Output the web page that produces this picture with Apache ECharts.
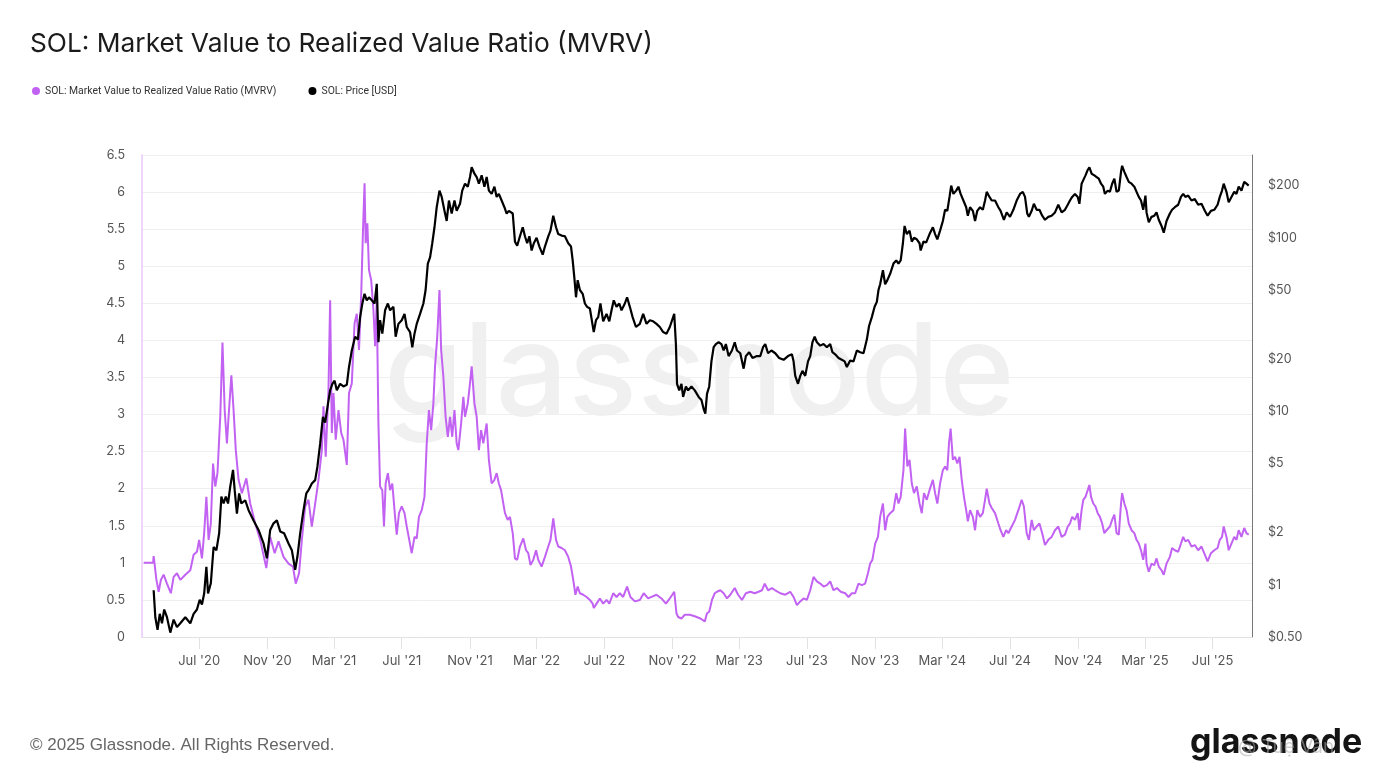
<!DOCTYPE html>
<html><head><meta charset="utf-8">
<script src="https://cdn.jsdelivr.net/npm/echarts@6/dist/echarts.min.js"></script>
<style>html,body{margin:0;padding:0;background:#fff;}#chart{width:1392px;height:780px;}</style>
</head><body><div id="chart"></div>
<script>
const seriesNames = ['SOL: Market Value to Realized Value Ratio (MVRV)', 'SOL: Price [USD]'];

const mvrvDates = [
'2020-03-23','2020-04-09','2020-04-10','2020-04-15','2020-04-19','2020-04-23','2020-04-28','2020-05-04','2020-05-11','2020-05-16',
'2020-05-22','2020-05-28','2020-06-06','2020-06-15','2020-06-21','2020-06-27','2020-07-01','2020-07-06','2020-07-10','2020-07-14',
'2020-07-18','2020-07-22','2020-07-26','2020-07-30','2020-08-03','2020-08-08','2020-08-12','2020-08-16','2020-08-20','2020-08-23',
'2020-08-28','2020-09-01','2020-09-05','2020-09-10','2020-09-16','2020-09-24','2020-10-01','2020-10-10','2020-10-19','2020-10-30',
'2020-11-06','2020-11-14','2020-11-21','2020-11-30','2020-12-09','2020-12-17','2020-12-22','2020-12-28',
'2021-01-02','2021-01-08','2021-01-14','2021-01-20','2021-01-26','2021-02-01','2021-02-07','2021-02-10','2021-02-14','2021-02-19',
'2021-02-22','2021-02-25','2021-02-28','2021-03-04','2021-03-09','2021-03-14','2021-03-18','2021-03-24','2021-03-28','2021-04-02',
'2021-04-07','2021-04-11','2021-04-15','2021-04-19','2021-04-22','2021-04-25','2021-04-27','2021-04-30','2021-05-03','2021-05-07',
'2021-05-11','2021-05-14','2021-05-17','2021-05-20','2021-05-23','2021-05-27','2021-05-30','2021-06-02','2021-06-06','2021-06-10',
'2021-06-14','2021-06-19','2021-06-22','2021-06-26','2021-07-01','2021-07-06','2021-07-10','2021-07-14','2021-07-19','2021-07-24',
'2021-07-28','2021-08-01','2021-08-06','2021-08-11','2021-08-15','2021-08-19','2021-08-23','2021-08-27','2021-08-30','2021-09-03',
'2021-09-07','2021-09-10','2021-09-14','2021-09-18','2021-09-22','2021-09-26','2021-09-30','2021-10-04','2021-10-08','2021-10-11',
'2021-10-16','2021-10-20','2021-10-23','2021-10-28','2021-11-01','2021-11-04','2021-11-09','2021-11-13','2021-11-17','2021-11-21',
'2021-11-25','2021-12-01','2021-12-05','2021-12-10','2021-12-15','2021-12-19','2021-12-23','2021-12-27','2021-12-31',
'2022-01-03','2022-01-08','2022-01-12','2022-01-17','2022-01-21','2022-01-25','2022-01-30','2022-02-05','2022-02-10','2022-02-14',
'2022-02-18','2022-02-23','2022-02-28','2022-03-04','2022-03-10','2022-03-16','2022-03-22','2022-03-26','2022-03-31','2022-04-05',
'2022-04-09','2022-04-15','2022-04-21','2022-04-27','2022-05-02','2022-05-06','2022-05-10','2022-05-14','2022-05-18','2022-05-24',
'2022-05-30','2022-06-05','2022-06-10','2022-06-12','2022-06-17','2022-06-23','2022-06-29','2022-07-05','2022-07-10','2022-07-17',
'2022-07-23','2022-07-29','2022-08-04','2022-08-11','2022-08-17','2022-08-25','2022-09-03','2022-09-10','2022-09-18','2022-09-24',
'2022-10-03','2022-10-12','2022-10-20','2022-10-27','2022-11-04','2022-11-08','2022-11-11','2022-11-17','2022-11-23','2022-12-02',
'2022-12-11','2022-12-21','2022-12-29',
'2023-01-02','2023-01-06','2023-01-11','2023-01-16','2023-01-20','2023-01-26','2023-02-01','2023-02-07','2023-02-13','2023-02-21',
'2023-02-27','2023-03-06','2023-03-13','2023-03-21','2023-03-29','2023-04-05','2023-04-11','2023-04-16','2023-04-22','2023-04-29',
'2023-05-05','2023-05-14','2023-05-23','2023-06-01','2023-06-07','2023-06-13','2023-06-19','2023-06-25','2023-07-01','2023-07-07',
'2023-07-13','2023-07-19','2023-07-25','2023-07-31','2023-08-06','2023-08-12','2023-08-18','2023-08-24','2023-08-31','2023-09-08',
'2023-09-14','2023-09-20','2023-09-26','2023-10-02','2023-10-08','2023-10-14','2023-10-19','2023-10-23','2023-10-27','2023-11-01',
'2023-11-06','2023-11-10','2023-11-15','2023-11-19','2023-11-23','2023-11-28','2023-12-04','2023-12-09','2023-12-13','2023-12-17',
'2023-12-22','2023-12-25','2023-12-29',
'2024-01-02','2024-01-06','2024-01-10','2024-01-15','2024-01-20','2024-01-24','2024-01-28','2024-02-02','2024-02-07','2024-02-13',
'2024-02-17','2024-02-21','2024-02-26','2024-03-02','2024-03-06','2024-03-10','2024-03-13','2024-03-16','2024-03-20','2024-03-24',
'2024-03-28','2024-04-01','2024-04-05','2024-04-09','2024-04-13','2024-04-16','2024-04-20','2024-04-25','2024-04-29','2024-05-03',
'2024-05-08','2024-05-13','2024-05-17','2024-05-20','2024-05-25','2024-05-29','2024-06-04','2024-06-10','2024-06-14','2024-06-19',
'2024-06-24','2024-06-28','2024-07-04','2024-07-10','2024-07-16','2024-07-22','2024-07-26','2024-07-31','2024-08-04','2024-08-09',
'2024-08-13','2024-08-18','2024-08-23','2024-08-28','2024-09-02','2024-09-08','2024-09-14','2024-09-20','2024-09-26','2024-10-02',
'2024-10-08','2024-10-13','2024-10-17','2024-10-21','2024-10-26','2024-10-31','2024-11-03','2024-11-07','2024-11-10','2024-11-14',
'2024-11-18','2024-11-21','2024-11-24','2024-11-28','2024-12-02','2024-12-06','2024-12-10','2024-12-14','2024-12-18','2024-12-22',
'2024-12-28',
'2025-01-01','2025-01-05','2025-01-09','2025-01-13','2025-01-17','2025-01-19','2025-01-23','2025-01-27','2025-01-31','2025-02-05',
'2025-02-10','2025-02-14','2025-02-18','2025-02-22','2025-02-26','2025-03-02','2025-03-04','2025-03-08','2025-03-13','2025-03-18',
'2025-03-22','2025-03-26','2025-03-31','2025-04-04','2025-04-09','2025-04-15','2025-04-19','2025-04-24','2025-04-30','2025-05-05',
'2025-05-09','2025-05-13','2025-05-18','2025-05-24','2025-05-30','2025-06-05','2025-06-11','2025-06-17','2025-06-22','2025-06-28',
'2025-07-04','2025-07-10','2025-07-14','2025-07-18','2025-07-21','2025-07-26','2025-07-30','2025-08-04','2025-08-09','2025-08-13',
'2025-08-17','2025-08-22','2025-08-27','2025-08-31','2025-09-04'
];
const mvrvValues = [
1.00,1.00,1.09,0.77,0.61,0.77,0.84,0.72,0.59,0.81,
0.86,0.77,0.84,0.90,1.11,1.15,1.31,1.06,1.40,1.89,
1.31,1.53,2.34,2.03,2.21,2.97,3.97,3.06,2.61,2.97,
3.53,3.06,2.52,2.12,1.94,2.14,1.80,1.53,1.31,0.93,
1.35,1.13,1.29,1.08,0.99,0.95,0.72,0.86,
1.31,1.76,1.85,1.49,1.80,2.12,2.52,3.11,2.43,3.33,
4.54,2.75,3.29,2.66,3.06,2.75,2.66,2.32,3.29,3.42,
4.23,4.36,3.87,4.63,5.44,6.12,5.31,5.58,4.95,4.81,
4.41,3.92,4.54,2.88,2.03,1.98,1.49,2.07,2.21,1.98,
2.07,1.62,1.38,1.67,1.76,1.67,1.49,1.33,1.13,1.35,
1.33,1.62,1.71,1.89,2.61,3.06,2.79,3.15,3.65,4.05,
4.68,3.87,3.51,2.97,2.70,2.97,2.70,3.06,2.61,2.52,
2.88,3.24,2.97,3.15,3.42,3.65,3.15,2.97,2.52,2.79,
2.61,2.88,2.39,2.07,2.12,2.21,2.07,1.98,1.80,
1.67,1.58,1.62,1.40,1.06,1.04,1.22,1.33,1.17,1.13,
0.97,1.04,1.17,1.04,0.95,1.08,1.22,1.31,1.60,1.31,
1.22,1.20,1.17,1.08,0.95,0.77,0.57,0.68,0.59,0.57,
0.54,0.50,0.45,0.39,0.45,0.52,0.45,0.50,0.45,0.59,
0.54,0.59,0.54,0.68,0.54,0.48,0.50,0.59,0.52,0.54,
0.57,0.52,0.45,0.52,0.61,0.32,0.27,0.25,0.30,0.30,
0.28,0.25,0.21,
0.32,0.34,0.50,0.59,0.61,0.63,0.59,0.52,0.57,0.66,
0.57,0.50,0.59,0.61,0.59,0.61,0.63,0.72,0.63,0.66,
0.63,0.59,0.57,0.61,0.54,0.43,0.48,0.52,0.50,0.63,
0.81,0.75,0.72,0.68,0.70,0.75,0.63,0.66,0.61,0.59,
0.54,0.59,0.59,0.72,0.70,0.72,0.86,0.99,1.04,1.26,
1.35,1.62,1.80,1.44,1.62,1.67,1.71,1.94,1.80,1.89,
2.25,2.81,2.30,
2.39,2.07,1.94,2.03,1.80,1.67,1.94,1.85,1.98,2.12,
1.94,1.80,2.07,2.25,2.30,2.25,2.61,2.81,2.39,2.43,
2.34,2.43,2.12,1.89,1.71,1.56,1.71,1.62,1.44,1.71,
1.62,1.67,1.85,2.00,1.80,1.74,1.67,1.53,1.44,1.35,
1.44,1.40,1.49,1.58,1.71,1.85,1.76,1.40,1.31,1.58,
1.44,1.49,1.53,1.40,1.24,1.31,1.35,1.44,1.49,1.35,
1.38,1.49,1.53,1.62,1.58,1.67,1.44,1.71,1.85,1.89,
1.98,2.05,1.89,1.80,1.76,1.67,1.62,1.53,1.40,1.44,
1.49,
1.58,1.65,1.40,1.38,1.80,1.94,1.80,1.71,1.53,1.44,
1.40,1.31,1.26,1.17,1.04,1.26,0.99,0.88,0.99,0.97,
1.06,0.95,0.90,0.84,0.99,1.08,1.20,1.17,1.15,1.26,
1.35,1.29,1.31,1.22,1.24,1.17,1.22,1.11,1.02,1.13,
1.17,1.20,1.31,1.35,1.49,1.35,1.17,1.26,1.35,1.31,
1.44,1.35,1.47,1.40,1.38
];

const priceDates = [
'2020-04-10','2020-04-13','2020-04-17','2020-04-21','2020-04-25','2020-04-29','2020-05-04','2020-05-10','2020-05-16','2020-05-22',
'2020-05-28','2020-06-06','2020-06-15','2020-06-21','2020-06-27','2020-07-02','2020-07-06','2020-07-10','2020-07-14','2020-07-17',
'2020-07-22','2020-07-27','2020-08-01','2020-08-06','2020-08-10','2020-08-14','2020-08-18','2020-08-22','2020-08-26','2020-08-31',
'2020-09-03','2020-09-07','2020-09-11','2020-09-15','2020-09-22','2020-09-28','2020-10-07','2020-10-16','2020-10-25','2020-10-31',
'2020-11-06','2020-11-12','2020-11-18','2020-11-24','2020-12-01','2020-12-09','2020-12-15','2020-12-21','2020-12-25','2020-12-30',
'2021-01-05','2021-01-10','2021-01-14','2021-01-20','2021-01-26','2021-01-30','2021-02-04','2021-02-09','2021-02-13','2021-02-18',
'2021-02-22','2021-02-26','2021-03-02','2021-03-06','2021-03-12','2021-03-18','2021-03-24','2021-03-28','2021-04-02','2021-04-08',
'2021-04-13','2021-04-17','2021-04-21','2021-04-25','2021-04-29','2021-05-03','2021-05-08','2021-05-13','2021-05-17','2021-05-20',
'2021-05-23','2021-05-27','2021-06-01','2021-06-06','2021-06-10','2021-06-16','2021-06-20','2021-06-25','2021-07-01','2021-07-06',
'2021-07-10','2021-07-16','2021-07-20','2021-07-24','2021-07-28','2021-08-03','2021-08-09','2021-08-13','2021-08-17','2021-08-21',
'2021-08-25','2021-08-29','2021-09-02','2021-09-07','2021-09-11','2021-09-16','2021-09-20','2021-09-24','2021-09-29','2021-10-04',
'2021-10-08','2021-10-14','2021-10-18','2021-10-23','2021-10-28','2021-11-01','2021-11-04','2021-11-09','2021-11-13','2021-11-17',
'2021-11-22','2021-11-27','2021-12-01','2021-12-05','2021-12-10','2021-12-15','2021-12-19','2021-12-23','2021-12-28',
'2022-01-02','2022-01-06','2022-01-10','2022-01-12','2022-01-17','2022-01-21','2022-01-25','2022-01-30','2022-02-04','2022-02-08',
'2022-02-12','2022-02-16','2022-02-20','2022-02-24','2022-03-01','2022-03-06','2022-03-12','2022-03-16','2022-03-22','2022-03-26',
'2022-03-31','2022-04-05','2022-04-09','2022-04-15','2022-04-21','2022-04-27','2022-05-02','2022-05-05','2022-05-08','2022-05-11',
'2022-05-14','2022-05-18','2022-05-23','2022-05-27','2022-05-31','2022-06-05','2022-06-08','2022-06-12','2022-06-16','2022-06-20',
'2022-06-24','2022-06-29','2022-07-05','2022-07-10','2022-07-14','2022-07-18','2022-07-23','2022-07-28','2022-08-01','2022-08-07',
'2022-08-11','2022-08-16','2022-08-21','2022-08-27','2022-09-03','2022-09-09','2022-09-15','2022-09-21','2022-09-27','2022-10-03',
'2022-10-09','2022-10-15','2022-10-21','2022-10-27','2022-11-02','2022-11-04','2022-11-07','2022-11-09','2022-11-13','2022-11-17',
'2022-11-20','2022-11-25','2022-11-29','2022-12-05','2022-12-11','2022-12-18','2022-12-23','2022-12-27','2022-12-30',
'2023-01-02','2023-01-06','2023-01-10','2023-01-14','2023-01-18','2023-01-23','2023-01-28','2023-02-01','2023-02-05','2023-02-10',
'2023-02-16','2023-02-21','2023-02-25','2023-03-03','2023-03-09','2023-03-13','2023-03-19','2023-03-25','2023-04-02','2023-04-08',
'2023-04-13','2023-04-17','2023-04-22','2023-04-28','2023-05-05','2023-05-12','2023-05-20','2023-05-28','2023-06-04','2023-06-07',
'2023-06-10','2023-06-15','2023-06-19','2023-06-23','2023-06-28','2023-07-03','2023-07-07','2023-07-11','2023-07-15','2023-07-19',
'2023-07-25','2023-07-31','2023-08-06','2023-08-12','2023-08-16','2023-08-21','2023-08-27','2023-09-02','2023-09-07','2023-09-11',
'2023-09-17','2023-09-23','2023-09-29','2023-10-05','2023-10-11','2023-10-17','2023-10-21','2023-10-26','2023-10-31','2023-11-04',
'2023-11-07','2023-11-10','2023-11-15','2023-11-19','2023-11-23','2023-11-28','2023-12-04','2023-12-09','2023-12-13','2023-12-17',
'2023-12-21','2023-12-24','2023-12-28',
'2024-01-02','2024-01-06','2024-01-10','2024-01-15','2024-01-20','2024-01-22','2024-01-27','2024-02-01','2024-02-07','2024-02-13',
'2024-02-17','2024-02-21','2024-02-26','2024-03-02','2024-03-06','2024-03-10','2024-03-14','2024-03-17','2024-03-21','2024-03-26',
'2024-03-30','2024-04-03','2024-04-08','2024-04-13','2024-04-16','2024-04-20','2024-04-25','2024-04-29','2024-05-03','2024-05-08',
'2024-05-13','2024-05-17','2024-05-20','2024-05-25','2024-05-29','2024-06-04','2024-06-10','2024-06-14','2024-06-20','2024-06-25',
'2024-07-01','2024-07-07','2024-07-13','2024-07-19','2024-07-24','2024-07-28','2024-08-01','2024-08-04','2024-08-09','2024-08-13',
'2024-08-18','2024-08-23','2024-08-28','2024-09-02','2024-09-08','2024-09-14','2024-09-20','2024-09-26','2024-10-02','2024-10-08',
'2024-10-13','2024-10-17','2024-10-21','2024-10-26','2024-10-31','2024-11-03','2024-11-07','2024-11-10','2024-11-14','2024-11-18',
'2024-11-21','2024-11-25','2024-11-30','2024-12-04','2024-12-08','2024-12-12','2024-12-16','2024-12-19','2024-12-24','2024-12-28',
'2025-01-01','2025-01-05','2025-01-09','2025-01-13','2025-01-17','2025-01-19','2025-01-23','2025-01-27','2025-01-31','2025-02-05',
'2025-02-10','2025-02-14','2025-02-18','2025-02-22','2025-02-26','2025-03-02','2025-03-04','2025-03-08','2025-03-13','2025-03-18',
'2025-03-22','2025-03-26','2025-03-31','2025-04-04','2025-04-09','2025-04-15','2025-04-19','2025-04-24','2025-04-30','2025-05-05',
'2025-05-09','2025-05-13','2025-05-18','2025-05-24','2025-05-30','2025-06-05','2025-06-11','2025-06-17','2025-06-22','2025-06-28',
'2025-07-04','2025-07-10','2025-07-14','2025-07-18','2025-07-21','2025-07-26','2025-07-30','2025-08-04','2025-08-09','2025-08-13',
'2025-08-17','2025-08-22','2025-08-27','2025-08-31','2025-09-04'
];
const priceValues = [
0.93,0.65,0.55,0.68,0.60,0.72,0.65,0.53,0.63,0.57,
0.60,0.65,0.60,0.68,0.72,0.82,0.77,0.89,1.27,0.89,
1.02,1.65,1.58,1.98,3.22,2.94,3.22,2.94,3.68,4.59,
3.51,2.57,3.36,2.94,3.07,2.69,2.35,2.07,1.73,1.42,
2.07,2.26,2.35,2.03,1.98,1.73,1.58,1.22,1.45,1.98,
2.69,3.36,3.51,3.83,4.01,4.78,6.50,9.27,8.60,11.0,
13.2,14.4,15.0,13.2,14.4,13.9,14.2,18.0,22.4,26.9,
25.9,34.9,41.8,47.5,43.6,45.4,43.6,41.8,54.3,25.0,
33.5,28.0,38.2,41.8,38.2,40.0,26.9,31.9,33.5,36.4,
30.6,28.6,23.4,28.0,31.9,36.4,41.8,50.0,71,77,
93,115,150,187,172,143,125,164,138,164,
143,157,187,205,197,224,255,234,224,205,
229,197,224,187,179,197,172,179,164,
150,138,143,145,138,95,90,102,115,102,
93,102,84.5,93,100,89,80,89,102,110,
134,115,105,103,102,93,89,74,59,45.4,
57,50,47.5,41.8,40.0,39.1,38.2,28.6,33.5,34.9,
41.8,33.0,36.4,33.0,38.2,43.6,40.0,41.8,38.2,41.8,
45.4,40.0,34.9,30.6,31.9,36.4,31.9,33.5,33.0,31.9,
30.6,28.6,28.0,30.6,34.9,36.4,24.4,14.4,13.2,14.4,
12.1,13.9,13.2,13.9,13.2,12.1,11.6,10.3,9.7,
12.6,13.9,19.4,23.4,24.4,25.0,24.4,22.4,24.4,20.8,
22.4,25.0,22.4,21.6,17.6,20.8,21.9,20.3,20.8,20.8,
23.4,24.4,21.6,22.4,21.6,20.3,19.8,20.8,21.3,19.4,
16.0,14.4,16.0,17.1,16.0,19.4,20.8,25.0,26.9,25.0,
23.9,24.4,23.4,24.4,21.9,21.3,20.3,19.8,19.4,18.0,
19.6,19.4,22.4,21.9,21.6,25.9,31.0,34.9,40.0,42.7,
50,54,65,54,57,62,71,74,71,74,
93,117,105,
110,95,100,98,93,84.5,95,94,105,115,
105,98,110,125,145,143,172,200,179,187,
197,179,164,150,134,150,143,125,143,150,
145,164,184,172,164,164,150,143,127,140,
132,145,164,179,184,172,138,132,143,157,
145,145,134,127,132,134,140,155,140,145,
155,164,172,179,172,157,205,215,229,246,
255,234,229,224,219,205,197,179,187,184,
205,219,184,187,240,260,240,224,210,205,
197,184,172,164,145,175,140,123,132,134,
140,127,117,107,125,138,145,150,155,172,
179,172,175,164,167,155,157,143,134,143,
145,155,172,187,205,184,160,172,184,179,
197,187,210,205,200
];

const xTickDates = ['2020-07-01','2020-11-01','2021-03-01','2021-07-01','2021-11-01','2022-03-01','2022-07-01','2022-11-01',
  '2023-03-01','2023-07-01','2023-11-01','2024-03-01','2024-07-01','2024-11-01','2025-03-01','2025-07-01'];
const xRange = ['2020-03-20', '2025-09-10'];
const priceTicks = [0.5, 1, 2, 5, 10, 20, 50, 100, 200];
const monthNames = ['Jan','Feb','Mar','Apr','May','Jun','Jul','Aug','Sep','Oct','Nov','Dec'];

function ts(s) { return Date.parse(s + 'T00:00:00Z'); }
function zip(d, v) { return d.map(function (x, i) { return [ts(x), v[i]]; }); }

const chart = echarts.init(document.getElementById('chart'), null, { renderer: 'canvas' });
const FONT = 'Inter, "Noto Sans", sans-serif';
const option = {
  animation: false,
  backgroundColor: '#ffffff',
  textStyle: { fontFamily: FONT },
  title: {
    text: 'SOL: Market Value to Realized Value Ratio (MVRV)',
    left: 25, top: 26,
    textStyle: { fontSize: 26.3, fontWeight: 'normal', color: '#1b1b1b', fontFamily: FONT }
  },
  legend: {
    left: 27, top: 81, icon: 'circle', itemWidth: 8, itemHeight: 8, itemGap: 32,
    textStyle: { fontSize: 10.4, color: '#333', fontFamily: 'Roboto, sans-serif' },
    data: seriesNames
  },
  grid: { left: 142, right: 140, top: 155, bottom: 143, containLabel: false },
  xAxis: {
    type: 'value', min: ts(xRange[0]), max: ts(xRange[1]),
    axisLine: { show: true, onZero: false, lineStyle: { color: '#e2e2e2', width: 1 } },
    axisTick: { show: true, customValues: xTickDates.map(ts), length: 12, lineStyle: { color: '#e2e2e2' } },
    axisLabel: {
      customValues: xTickDates.map(ts), color: '#555', fontSize: 13, margin: 18, fontFamily: FONT,
      formatter: function (v) { const d = new Date(v); return monthNames[d.getUTCMonth()] + " '" + String(d.getUTCFullYear()).slice(2); }
    },
    splitLine: { show: false }
  },
  yAxis: [
    {
      type: 'value', position: 'left', min: 0, max: 6.5, interval: 0.5,
      axisLine: { show: true, lineStyle: { color: '#ecc8fb', width: 1.5 } },
      axisTick: { show: false },
      axisLabel: { color: '#555', fontSize: 12.5, margin: 17, fontFamily: FONT },
      splitLine: { show: true, lineStyle: { color: '#efefef', width: 1 } }
    },
    {
      type: 'log', logBase: 10, position: 'right', min: 0.5, max: 300,
      axisLine: { show: true, lineStyle: { color: '#777', width: 1 } },
      axisTick: { show: false },
      axisLabel: {
        customValues: priceTicks, color: '#555', fontSize: 12.5, margin: 16, fontFamily: FONT,
        formatter: function (v) { return '$' + (v < 1 ? v.toFixed(2) : String(Math.round(v))); }
      },
      splitLine: { show: false }
    }
  ],
  graphic: [
    { type: 'text', z: -10, silent: true, left: 384, top: 313,
      style: { text: 'glassnode', fontSize: 128, fontFamily: FONT, fontWeight: 500, fill: 'rgba(0,0,0,0.06)' } },
    { type: 'text', left: 30, top: 737,
      style: { text: '© 2025 Glassnode. All Rights Reserved.', fontSize: 17, fontFamily: '"Liberation Sans", Arial, sans-serif', fill: '#666' } },
    { type: 'text', left: 1190, top: 726,
      style: { text: 'glassnode', fontSize: 34, fontWeight: 'bold', fontFamily: FONT, fill: '#141414' } },
    { type: 'text', left: 1238, top: 738,
      style: { text: '@ Tuệ Vân', fontSize: 19, fontFamily: FONT, fill: 'rgba(170,170,170,0.55)' } }
  ],
  series: [
    {
      name: seriesNames[0], type: 'line', yAxisIndex: 0, showSymbol: false, symbol: 'none',
      lineStyle: { color: '#c262f2', width: 2 }, itemStyle: { color: '#c262f2' },
      data: zip(mvrvDates, mvrvValues), z: 3
    },
    {
      name: seriesNames[1], type: 'line', yAxisIndex: 1, showSymbol: false, symbol: 'none',
      lineStyle: { color: '#000000', width: 2.2 }, itemStyle: { color: '#000000' },
      data: zip(priceDates, priceValues), z: 4
    }
  ]
};
chart.setOption(option);
</script>
</body></html>
